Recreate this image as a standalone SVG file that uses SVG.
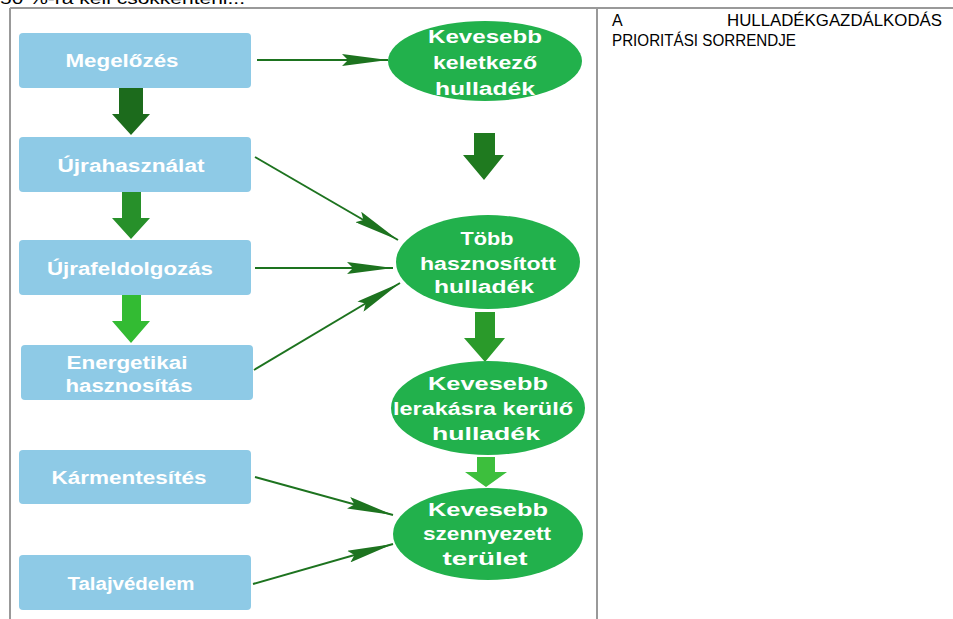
<svg xmlns="http://www.w3.org/2000/svg" width="953" height="619" viewBox="0 0 953 619">
<defs>
<style>
.box{fill:#8ecae6}
.ell{fill:#22b14c}
.bt{fill:#fff;font-family:"Liberation Sans",Arial,sans-serif;font-weight:bold;font-size:18px;text-anchor:middle}
.et{fill:#fff;font-family:"Liberation Sans",Arial,sans-serif;font-weight:bold;font-size:18px;text-anchor:middle}
.ln{stroke:#1d731f;stroke-width:2;fill:none;marker-end:url(#ah)}
.tb{stroke:#999;stroke-width:2;fill:none}
.rt{font-family:"Liberation Sans",Arial,sans-serif;font-size:16px;fill:#000}
</style>
<marker id="ah" markerUnits="userSpaceOnUse" markerWidth="46" markerHeight="12" refX="46" refY="6" orient="auto">
<path d="M0,0 L46,6 L0,12 L6,6 z" fill="#1d731f"/>
</marker>
</defs>
<rect width="953" height="619" fill="#fff"/>
<text x="0" y="4" class="rt" font-size="19" textLength="245" lengthAdjust="spacingAndGlyphs">50 %-ra kell csökkenteni...</text>
<g id="table">
<path class="tb" d="M10,8 H953 M10,8 V619 M597,8 V619"/>
</g>
<g id="title">
<text class="rt" y="26"><tspan x="612">A</tspan><tspan x="727" textLength="215" lengthAdjust="spacingAndGlyphs">HULLADÉKGAZDÁLKODÁS</tspan></text>
<text class="rt" x="612" y="46" textLength="184" lengthAdjust="spacingAndGlyphs">PRIORITÁSI SORRENDJE</text>
</g>
<g id="connectors">
<path d="M119,88 H143 V114 H150 L131,135 L112,114 H119 Z" fill="#1c6b1c"/>
<path d="M122,192 H141 V218 H150 L131,239 L112,218 H122 Z" fill="#27902a"/>
<path d="M122,295 H141 V321 H150 L131,343 L112,321 H122 Z" fill="#33bb33"/>
<path d="M474,133 H495 V155 H504 L484,180 L463,155 H474 Z" fill="#1f7a1f"/>
<path d="M475,312 H495 V338 H505 L485,362 L464,338 H475 Z" fill="#2a9a2a"/>
<path d="M477,457 H495 V472 H507 L486,487 L465,472 H477 Z" fill="#3dbf3d"/>
<line class="ln" x1="257" y1="60" x2="388" y2="60"/>
<line class="ln" x1="255" y1="157" x2="398" y2="240"/>
<line class="ln" x1="255" y1="268" x2="393" y2="268"/>
<line class="ln" x1="254" y1="370" x2="400" y2="283"/>
<line class="ln" x1="255" y1="477" x2="393" y2="515"/>
<line class="ln" x1="253" y1="584" x2="393" y2="544"/>
</g>
<g id="n-megelozes"><rect class="box" x="19" y="33" width="232" height="55" rx="4"/><text class="bt" x="122" y="67" textLength="113" lengthAdjust="spacingAndGlyphs">Megelőzés</text></g>
<g id="n-ujrahasznalat"><rect class="box" x="19" y="137" width="232" height="55" rx="4"/><text class="bt" x="131" y="172" textLength="147" lengthAdjust="spacingAndGlyphs">Újrahasználat</text></g>
<g id="n-ujrafeldolgozas"><rect class="box" x="19" y="240" width="232" height="55" rx="4"/><text class="bt" x="130" y="275" textLength="166" lengthAdjust="spacingAndGlyphs">Újrafeldolgozás</text></g>
<g id="n-energetikai"><rect class="box" x="21" y="345" width="232" height="55" rx="4"/><text class="bt" x="127" y="369" textLength="121" lengthAdjust="spacingAndGlyphs">Energetikai</text><text class="bt" x="129" y="392" textLength="127" lengthAdjust="spacingAndGlyphs">hasznosítás</text></g>
<g id="n-karmentesites"><rect class="box" x="19" y="450" width="232" height="54" rx="4"/><text class="bt" x="129" y="484" textLength="155" lengthAdjust="spacingAndGlyphs">Kármentesítés</text></g>
<g id="n-talajvedelem"><rect class="box" x="19" y="555" width="232" height="55" rx="4"/><text class="bt" x="131" y="590" textLength="127" lengthAdjust="spacingAndGlyphs">Talajvédelem</text></g>
<g id="e-keletkezo"><ellipse class="ell" cx="485" cy="61" rx="97" ry="40"/><text class="et" x="485" y="43" textLength="114" lengthAdjust="spacingAndGlyphs">Kevesebb</text><text class="et" x="485" y="69" textLength="104" lengthAdjust="spacingAndGlyphs">keletkező</text><text class="et" x="485" y="95" textLength="100" lengthAdjust="spacingAndGlyphs">hulladék</text></g>
<g id="e-hasznositott"><ellipse class="ell" cx="488" cy="262" rx="92" ry="47"/><text class="et" x="487" y="245" textLength="53" lengthAdjust="spacingAndGlyphs">Több</text><text class="et" x="488" y="270" textLength="136" lengthAdjust="spacingAndGlyphs">hasznosított</text><text class="et" x="484" y="293" textLength="100" lengthAdjust="spacingAndGlyphs">hulladék</text></g>
<g id="e-lerakasra"><ellipse class="ell" cx="488" cy="408" rx="97" ry="47"/><text class="et" x="488" y="390" textLength="120" lengthAdjust="spacingAndGlyphs">Kevesebb</text><text class="et" x="483" y="415" textLength="180" lengthAdjust="spacingAndGlyphs">lerakásra kerülő</text><text class="et" x="486" y="440" textLength="108" lengthAdjust="spacingAndGlyphs">hulladék</text></g>
<g id="e-szennyezett"><ellipse class="ell" cx="488" cy="534" rx="95" ry="46"/><text class="et" x="488" y="516" textLength="120" lengthAdjust="spacingAndGlyphs">Kevesebb</text><text class="et" x="487" y="540" textLength="128" lengthAdjust="spacingAndGlyphs">szennyezett</text><text class="et" x="485" y="565" textLength="85" lengthAdjust="spacingAndGlyphs">terület</text></g>
</svg>
